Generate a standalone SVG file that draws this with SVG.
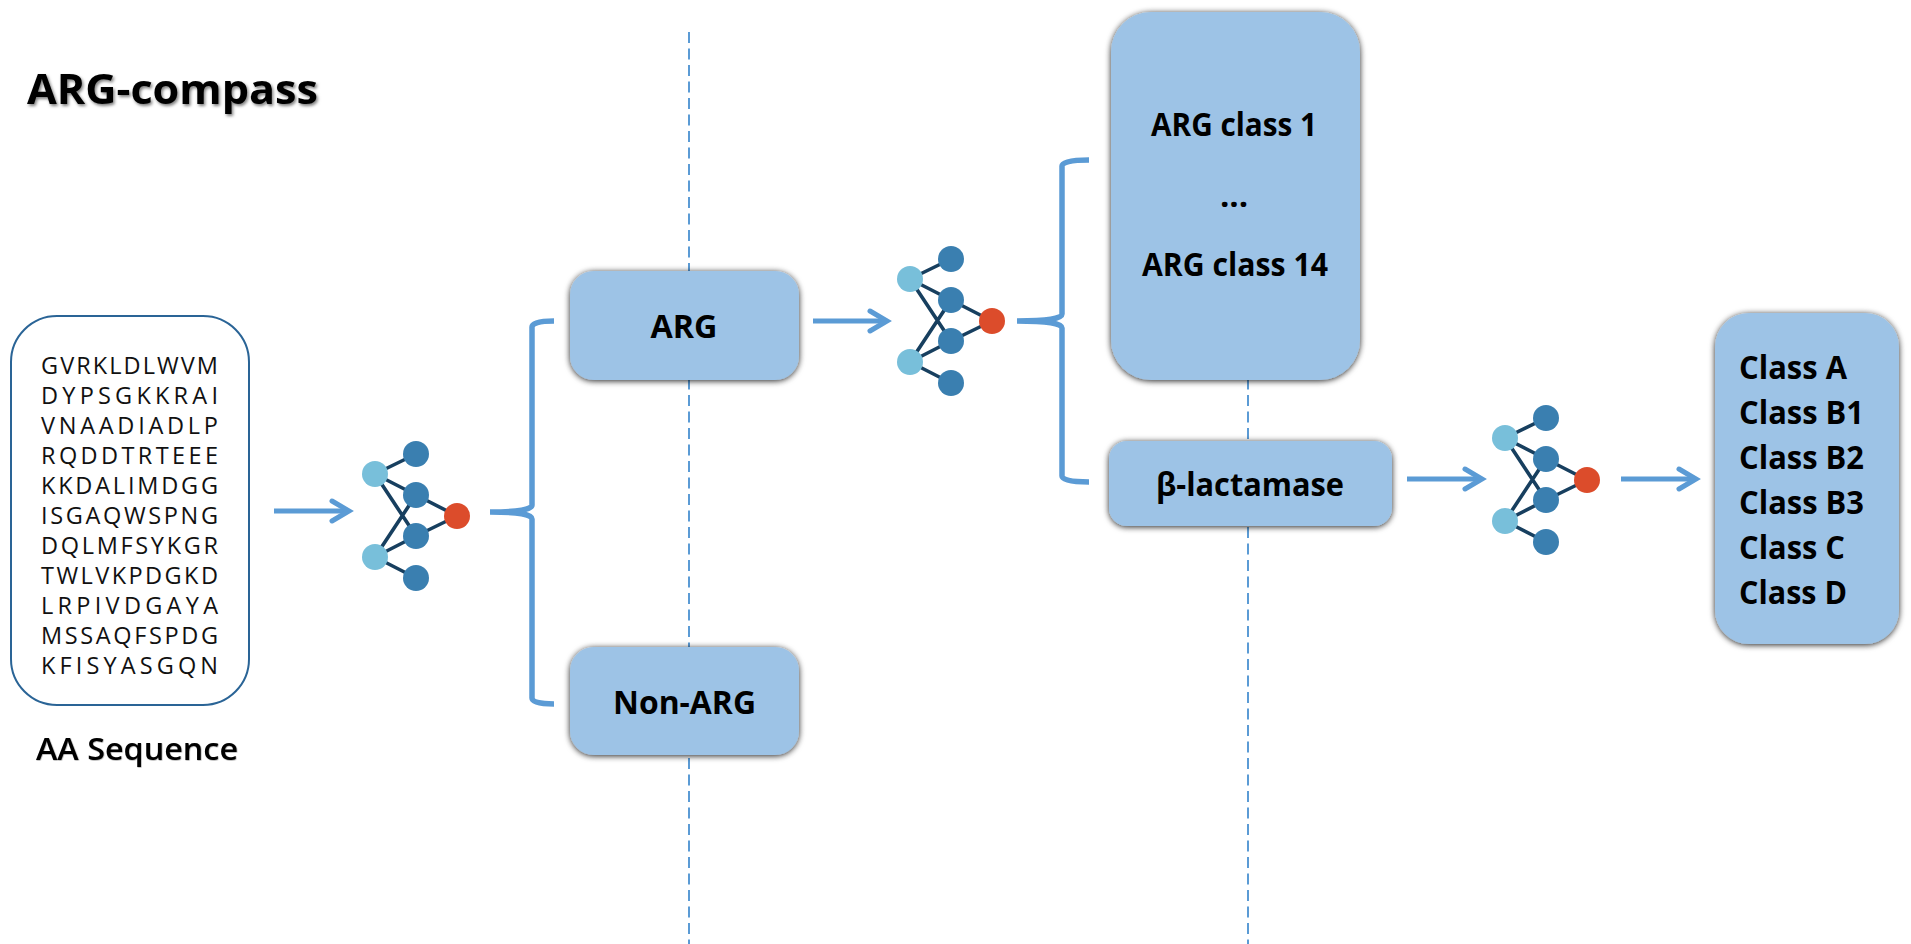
<svg xmlns="http://www.w3.org/2000/svg" width="1911" height="944" viewBox="0 0 1911 944">
<style>
.box{fill:#9dc3e6;filter:url(#sh)}
.lab{font-family:"Open Sans","Noto Sans","Liberation Sans",sans-serif;font-weight:700;fill:#000;font-size:33px}
.mid{text-anchor:middle}
.seq{font-family:"Open Sans","Noto Sans","Liberation Sans",sans-serif;font-size:23.5px;fill:#111}
.br{fill:none;stroke:#5b9bd5;stroke-width:5.5}
.ar{fill:none;stroke:#5b9bd5;stroke-width:5}
.hd{fill:none;stroke:#5b9bd5;stroke-width:5;stroke-linecap:round;stroke-linejoin:miter}
.dash{stroke:#5b9bd5;stroke-width:2;stroke-dasharray:11 5.5;fill:none}
.e{stroke:#173f5f;stroke-width:3.6;fill:none}
.in{fill:#78bfda}.hid{fill:#3a7fb0}.out{fill:#dc4c2b}
</style>
<defs>
<filter id="sh" x="-10%" y="-10%" width="120%" height="120%"><feGaussianBlur in="SourceAlpha" stdDeviation="3"/><feOffset dy="0.5"/><feComponentTransfer result="s"><feFuncA type="linear" slope="1.4"/></feComponentTransfer><feFlood flood-color="#000" flood-opacity="0.62"/><feComposite in2="s" operator="in"/><feMerge><feMergeNode/><feMergeNode in="SourceGraphic"/></feMerge></filter>
<filter id="ts" x="-5%" y="-20%" width="110%" height="140%"><feDropShadow dx="1.5" dy="2" stdDeviation="1.6" flood-color="#000" flood-opacity="0.5"/></filter>
<filter id="ts2" x="-5%" y="-20%" width="110%" height="140%"><feDropShadow dx="0.5" dy="0.5" stdDeviation="0.7" flood-color="#000" flood-opacity="0.45"/></filter>
<g id="net">
<path class="e" d="M374,473L415,453M374,473L415,494M374,473L415,535M374,556L415,494M374,556L415,535M374,556L415,577M415,494L456,515M415,535L456,515"/>
<circle class="in" cx="374" cy="473" r="13"/><circle class="in" cx="374" cy="556" r="13"/>
<circle class="hid" cx="415" cy="453" r="13"/><circle class="hid" cx="415" cy="494" r="13"/><circle class="hid" cx="415" cy="535" r="13"/><circle class="hid" cx="415" cy="577" r="13"/>
<circle class="out" cx="456" cy="515" r="13"/>
</g>
</defs>
<rect width="1911" height="944" fill="#fff"/>
<g id="connectors">
<path class="dash" d="M689,32V944"/>
<path class="dash" d="M1248,32V944"/>
<path class="br" d="M554,321Q532,321 532,327V505Q532,512 490,512Q532,512 532,519V698Q532,704 554,704"/>
<path class="br" d="M1089,160Q1062,160 1062,166V314Q1062,321 1017,321Q1062,321 1062,328V476Q1062,482 1089,482"/>
<path class="ar" d="M274,511H348"/><path class="hd" d="M332,501L349,511L332,521"/>
<path class="ar" d="M813,321H886"/><path class="hd" d="M870,311L887,321L870,331"/>
<path class="ar" d="M1407,479H1481"/><path class="hd" d="M1465,469L1482,479L1465,489"/>
<path class="ar" d="M1621,479H1695"/><path class="hd" d="M1679,469L1696,479L1679,489"/>
</g>
<g id="title"><text x="27" y="104" font-family="'Open Sans','Noto Sans',sans-serif" font-weight="700" font-size="42" textLength="291" lengthAdjust="spacingAndGlyphs" filter="url(#ts)">ARG-compass</text></g>
<g id="sequence">
<rect x="11" y="316" width="238" height="389" rx="46" ry="46" fill="#fff" stroke="#2a6496" stroke-width="2"/>
<g class="seq">
<text x="41" y="374" textLength="177">GVRKLDLWVM</text>
<text x="41" y="404" textLength="177">DYPSGKKRAI</text>
<text x="41" y="434" textLength="177">VNAADIADLP</text>
<text x="41" y="464" textLength="177">RQDDTRTEEE</text>
<text x="41" y="494" textLength="177">KKDALIMDGG</text>
<text x="41" y="524" textLength="177">ISGAQWSPNG</text>
<text x="41" y="554" textLength="177">DQLMFSYKGR</text>
<text x="41" y="584" textLength="177">TWLVKPDGKD</text>
<text x="41" y="614" textLength="177">LRPIVDGAYA</text>
<text x="41" y="644" textLength="177">MSSAQFSPDG</text>
<text x="41" y="674" textLength="177">KFISYASGQN</text>
</g>
<text x="36" y="760" font-family="'Open Sans','Noto Sans',sans-serif" font-weight="600" font-size="31" textLength="202" lengthAdjust="spacingAndGlyphs" filter="url(#ts2)">AA Sequence</text>
</g>
<g id="net1"><use href="#net" x="1" y="1"/></g>
<g id="net2"><use href="#net" x="536" y="-194"/></g>
<g id="net3"><use href="#net" x="1131" y="-35"/></g>
<g id="arg"><rect class="box" x="570" y="271" width="229" height="109" rx="24"/><text class="lab mid" x="684" y="338" textLength="67" lengthAdjust="spacingAndGlyphs">ARG</text></g>
<g id="non-arg"><rect class="box" x="570" y="647" width="229" height="108" rx="24"/><text class="lab mid" x="684.500" y="714" textLength="143" lengthAdjust="spacingAndGlyphs">Non-ARG</text></g>
<g id="arg-classes"><rect class="box" x="1111" y="12" width="249" height="368" rx="40"/>
<text class="lab mid" x="1234" y="136" textLength="166" lengthAdjust="spacingAndGlyphs">ARG class 1</text>
<text class="lab mid" x="1234" y="207">...</text>
<text class="lab mid" x="1235" y="276" textLength="186" lengthAdjust="spacingAndGlyphs">ARG class 14</text></g>
<g id="beta"><rect class="box" x="1109" y="441" width="283" height="85" rx="18"/><text class="lab mid" x="1250" y="496" textLength="188" lengthAdjust="spacingAndGlyphs">β-lactamase</text></g>
<g id="ambler"><rect class="box" x="1715" y="313" width="184" height="331" rx="34"/>
<g class="lab">
<text x="1739" y="379" textLength="108" lengthAdjust="spacingAndGlyphs">Class A</text>
<text x="1739" y="424" textLength="125" lengthAdjust="spacingAndGlyphs">Class B1</text>
<text x="1739" y="469" textLength="125" lengthAdjust="spacingAndGlyphs">Class B2</text>
<text x="1739" y="514" textLength="125" lengthAdjust="spacingAndGlyphs">Class B3</text>
<text x="1739" y="559" textLength="106" lengthAdjust="spacingAndGlyphs">Class C</text>
<text x="1739" y="604" textLength="108" lengthAdjust="spacingAndGlyphs">Class D</text>
</g></g>
</svg>
